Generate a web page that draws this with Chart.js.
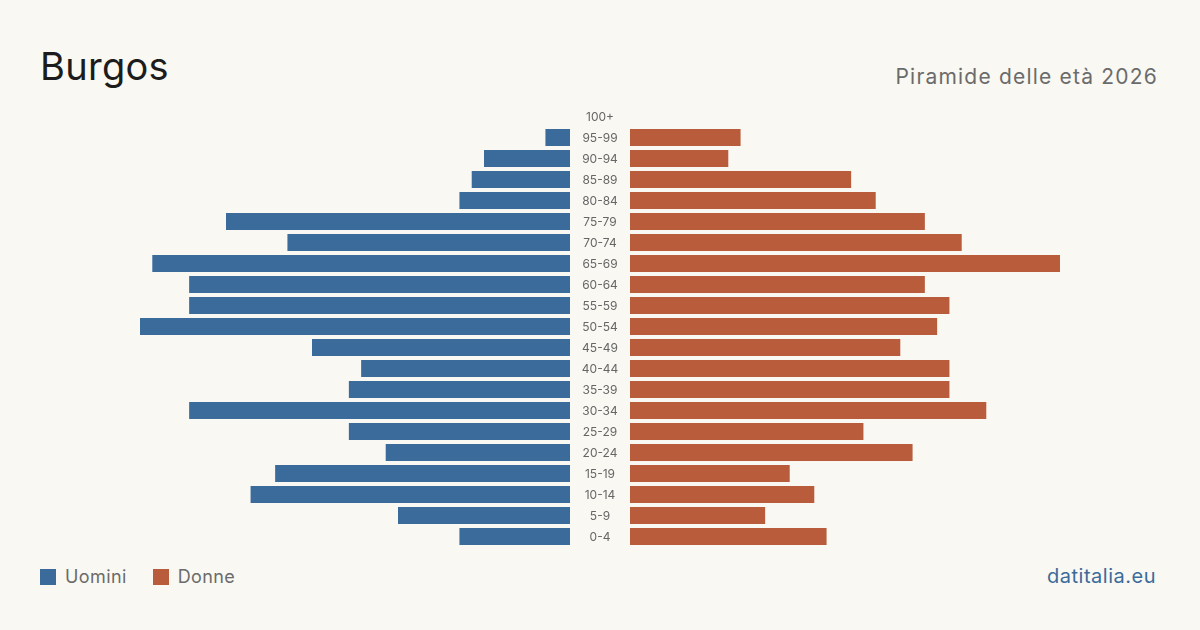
<!DOCTYPE html>
<html>
<head>
<meta charset="utf-8">
<script src="https://cdn.jsdelivr.net/npm/chart.js@4"></script>
<style>
  html, body { margin:0; padding:0; }
  body { width:1200px; height:630px; background:#f9f8f3; position:relative; overflow:hidden; font-family:Inter, "Noto Sans", sans-serif; }
  .title { position:absolute; left:40px; top:44px; font-size:38px; color:#1c1c1c; line-height:44px; letter-spacing:0.3px; }
  .subtitle { position:absolute; right:42px; top:63px; font-size:21px; color:#6b6b6b; line-height:28px; letter-spacing:1.2px; }
  .box { position:absolute; }
  .legend { position:absolute; left:40px; top:566px; display:flex; align-items:center; font-size:18px; color:#6b6b6b; letter-spacing:0.4px; }
  .legend .sw { width:16px; height:16px; display:inline-block; margin-right:9px; }
  .legend .item { display:flex; align-items:center; margin-right:26px; }
  .source { position:absolute; right:44px; top:564px; font-size:20px; color:#3b6b9b; letter-spacing:0.5px; }
</style>
</head>
<body>
<div class="title">Burgos</div>
<div class="subtitle">Piramide delle età 2026</div>

<div class="box" style="left:140px; top:106px; width:490px; height:441px;"><canvas id="menChart"></canvas></div>
<div class="box" style="left:630px; top:106px; width:430px; height:441px;"><canvas id="womenChart"></canvas></div>

<div class="legend">
  <div class="item"><span class="sw" style="background:#3b6b9b"></span>Uomini</div>
  <div class="item"><span class="sw" style="background:#b95c3b"></span>Donne</div>
</div>
<div class="source">datitalia.eu</div>

<script>
// age classes, top to bottom
const ageGroups = ['100+','95-99','90-94','85-89','80-84','75-79','70-74','65-69','60-64','55-59','50-54',
  '45-49','40-44','35-39','30-34','25-29','20-24','15-19','10-14','5-9','0-4'];
const men   = [0, 2, 7, 8, 9, 28, 23, 34, 31, 31, 35, 21, 17, 18, 31, 18, 15, 24, 26, 14, 9];
const women = [0, 9, 8, 18, 20, 24, 27, 35, 24, 26, 25, 22, 26, 26, 29, 19, 23, 13, 15, 11, 16];
const maxVal = 35;

const BLUE = '#3b6b9b';
const ORANGE = '#b95c3b';

Chart.defaults.font.family = 'Inter, "Noto Sans", sans-serif';
Chart.defaults.animation = false;

// draws the age labels in the gap right of the men's bars
const ageLabels = {
  id:'ageLabels',
  afterDraw(chart){
    const {ctx, chartArea, scales} = chart;
    const cx = chartArea.right + 30;
    ctx.save();
    ctx.font = '12px Inter, "Noto Sans", sans-serif';
    ctx.fillStyle = '#666';
    ctx.textAlign = 'center';
    ctx.textBaseline = 'middle';
    ageGroups.forEach((g,i)=>{
      ctx.fillText(g, cx, scales.y.getPixelForValue(i) + 0.5);
    });
    ctx.restore();
  }
};

function barOpts(padRight){
  return {
    responsive:true,
    maintainAspectRatio:false,
    indexAxis:'y',
    layout:{ padding:{ left:0, right:padRight, top:0, bottom:0 } },
    plugins:{ legend:{ display:false }, tooltip:{ enabled:false } },
  };
}

// left side: men, reversed
const optsM = barOpts(60);
optsM.scales = {
  x:{ reverse:true, min:0, max:maxVal, display:false },
  y:{ display:false }
};
new Chart(document.getElementById('menChart'), {
  type:'bar',
  data:{ labels: ageGroups, datasets:[{ label:'Uomini', data: men, backgroundColor: BLUE,
    categoryPercentage:1, barPercentage:0.81 }]},
  options: optsM,
  plugins:[ageLabels]
});

// right side: women
const optsW = barOpts(0);
optsW.scales = {
  x:{ min:0, max:maxVal, display:false },
  y:{ display:false }
};
new Chart(document.getElementById('womenChart'), {
  type:'bar',
  data:{ labels: ageGroups, datasets:[{ label:'Donne', data: women, backgroundColor: ORANGE,
    categoryPercentage:1, barPercentage:0.81 }]},
  options: optsW
});
</script>
</body>
</html>
